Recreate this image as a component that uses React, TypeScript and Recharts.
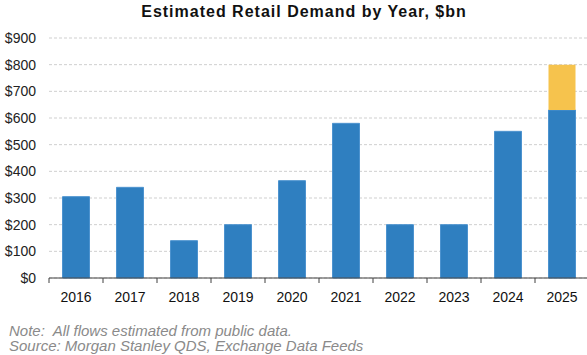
import React from 'react';
import { BarChart, Bar, XAxis, YAxis, CartesianGrid } from 'recharts';

const years = ['2016', '2017', '2018', '2019', '2020', '2021', '2022', '2023', '2024', '2025'];
const baseDemand = [305, 340, 140, 200, 365, 580, 200, 200, 550, 630];
const extraDemand = [0, 0, 0, 0, 0, 0, 0, 0, 0, 170];
const yTicks = [0, 100, 200, 300, 400, 500, 600, 700, 800, 900];

const data = years.map((year, i) => ({ year, base: baseDemand[i], extra: extraDemand[i] }));

const FONT = '"Liberation Sans", Arial, sans-serif';

// tick marks sit between categories, not under them
const YearTick = (props: any) => {
  const { x, y, payload } = props;
  const half = payload.offset ?? 0;
  return (
    <g>
      <line x1={x - half} x2={x - half} y1={y} y2={y + 5} stroke="#404040" strokeWidth={1} />
      <text x={x} y={y + 24} textAnchor="middle" fill="#111" fontSize={14} fontFamily={FONT}>
        {payload.value}
      </text>
    </g>
  );
};

export default function App() {
  return (
    <div
      style={{
        position: 'absolute',
        left: 0,
        top: 0,
        width: 587,
        height: 355,
        overflow: 'hidden',
        background: '#fff',
        fontFamily: FONT,
      }}
    >
      <div
        style={{
          position: 'absolute',
          left: 0,
          top: 3,
          width: 608,
          textAlign: 'center',
          fontSize: 16,
          fontWeight: 'bold',
          letterSpacing: 1,
          color: '#111',
        }}
      >
        Estimated Retail Demand by Year, $bn
      </div>
      <BarChart
        width={600}
        height={355}
        data={data}
        margin={{ top: 38, right: 11, left: 0, bottom: 47 }}
        barCategoryGap="25%"
      >
        <CartesianGrid vertical={false} strokeDasharray="3 2" stroke="#cfcfcf" />
        <XAxis
          dataKey="year"
          height={30}
          axisLine={{ stroke: '#404040' }}
          tickLine={false}
          tickSize={0}
          tickMargin={0}
          interval={0}
          tick={<YearTick />}
        />
        <YAxis
          width={49}
          domain={[0, 900]}
          ticks={yTicks}
          axisLine={false}
          tickLine={false}
          tickMargin={7}
          tickFormatter={(v: number) => `$${v}`}
          tick={{ fill: '#222', fontSize: 14, fontFamily: FONT }}
        />
        <Bar dataKey="base" stackId="a" fill="#2f7fc0" stroke="#4d93cf" strokeWidth={1} isAnimationActive={false} />
        <Bar dataKey="extra" stackId="a" fill="#f6c34d" isAnimationActive={false} />
      </BarChart>
      <div
        style={{
          position: 'absolute',
          left: 9,
          top: 324,
          fontSize: 15,
          fontStyle: 'italic',
          color: '#8a8a8a',
          lineHeight: '14.5px',
          whiteSpace: 'pre',
        }}
      >
        {'Note:  All flows estimated from public data.\nSource: Morgan Stanley QDS, Exchange Data Feeds'}
      </div>
    </div>
  );
}
